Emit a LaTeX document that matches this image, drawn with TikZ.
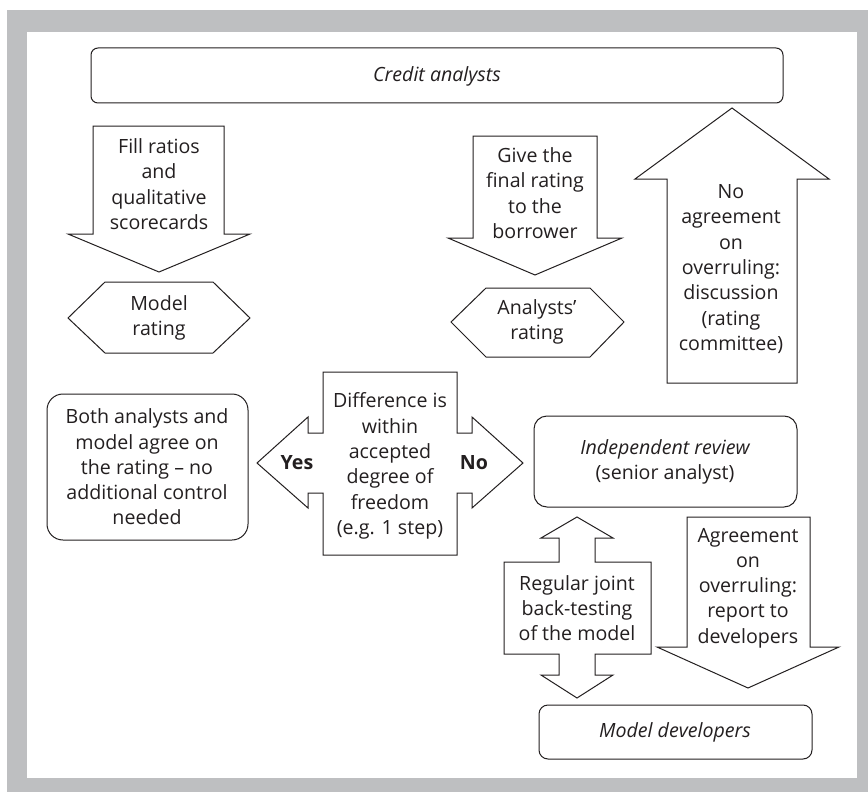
\documentclass[tikz,border=0pt]{standalone}
\usepackage{fontspec}
\setmainfont{Open Sans}
\definecolor{framegray}{HTML}{BEBFC1}
\definecolor{ink}{HTML}{231F20}
\tikzset{
  outline/.style={draw=ink, line width=1pt, fill=white, line join=miter},
  rbox/.style={draw=ink, line width=1pt, fill=white},
  txt/.style={align=center, text=ink, inner sep=0pt, font=\fontsize{19.6}{25.3}\selectfont},
  itxt/.style={align=center, text=ink, inner sep=0pt, font=\fontsize{19.6}{25.3}\selectfont\itshape},
  btxt/.style={align=center, text=ink, inner sep=0pt, font=\fontsize{19.6}{25.3}\selectfont\bfseries}
}
\begin{document}
\begin{tikzpicture}[x=1pt,y=-1pt]
\useasboundingbox (0,0) rectangle (868,792);
\fill[white] (0,0) rectangle (868,792);
\fill[framegray] (7,10) rectangle (868,792);
\fill[white] (27,32) rectangle (857,778);
\draw[rbox, rounded corners=7pt] (91,48) rectangle (783,103);
\node[itxt] (credit) at (437,76) {Credit analysts};
\draw[outline] (93,126) -- (224,126) -- (224,234) -- (250,234) -- (159,272) -- (68,234) -- (93,234) -- cycle;
\node[txt] (fill) at (159,184) {Fill ratios\\and\\qualitative\\scorecards};
\draw[outline] (473,136) -- (597,136) -- (597,238) -- (622,238) -- (535,275) -- (448,238) -- (473,238) -- cycle;
\node[txt] (give) at (535,193) {Give the\\final rating\\to the\\borrower};
\draw[outline] (732,108) -- (829,179) -- (797,179) -- (797,383) -- (667,383) -- (667,179) -- (635,179) -- cycle;
\node[txt] (noagree) at (731,269) {No\\agreement\\on\\overruling:\\discussion\\(rating\\committee)};
\draw[outline] (105,282) -- (213,282) -- (250,318) -- (213,353) -- (105,353) -- (68,318) -- cycle;
\node[txt] (modelrating) at (159,318) {Model\\rating};
\draw[outline] (486,288) -- (590,288) -- (624,322) -- (590,357) -- (486,357) -- (451,322) -- cycle;
\node[txt] (analystsrating) at (537,322) {Analysts'\\rating};
\draw[rbox, rounded corners=16pt] (47,394) rectangle (248,540);
\node[txt] (both) at (147,467) {Both analysts and\\model agree on\\the rating -- no\\additional control\\needed};
\draw[outline] (323,372) -- (457,372) -- (457,433) -- (472,433) -- (472,417) -- (523,463)
  -- (472,508) -- (472,493) -- (457,493) -- (457,555) -- (323,555) -- (323,493)
  -- (308,493) -- (308,508) -- (257,463) -- (308,417) -- (308,433) -- (323,433) -- cycle;
\node[txt] (diff) at (390,466) {Difference is\\within\\accepted\\degree of\\freedom\\(e.g. 1 step)};
\node[btxt] (yes) at (297,463) {Yes};
\node[btxt] (no) at (474,463) {No};
\draw[rbox, rounded corners=13pt] (534,416) rectangle (797,507);
\node[txt] (indep) at (665,462) {\itshape Independent review\\(senior analyst)};
\draw[outline] (577,517) -- (613,538) -- (595,538) -- (595,562) -- (651,562) -- (651,654)
  -- (595,654) -- (595,675) -- (613,675) -- (577,698) -- (541,675) -- (559,675) -- (559,654)
  -- (504,654) -- (504,562) -- (559,562) -- (559,538) -- (541,538) -- cycle;
\node[txt] (regular) at (577,608) {Regular joint\\back-testing\\of the model};
\draw[outline] (687,517) -- (810,517) -- (810,647) -- (839,647) -- (748,688) -- (657,647) -- (687,647) -- cycle;
\node[txt] (agree) at (748,588) {Agreement\\on\\overruling:\\report to\\developers};
\draw[rbox, rounded corners=9pt] (539,705) rectangle (812,759);
\node[itxt] (devs) at (675,732) {Model developers};
\end{tikzpicture}
\end{document}
